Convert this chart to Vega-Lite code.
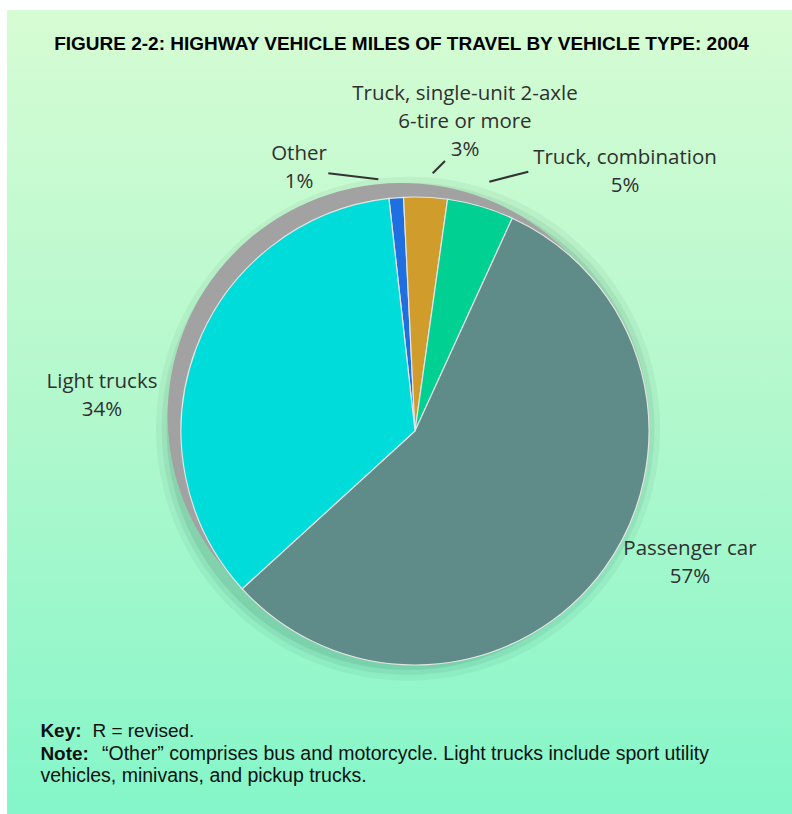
{
  "$schema": "https://vega.github.io/schema/vega-lite/v6.json",
  "width": 785,
  "height": 804,
  "autosize": {"type": "none"},
  "padding": {"left": 7, "top": 10, "right": 0, "bottom": 0},
  "background": "#ffffff",
  "view": {
    "stroke": null,
    "fill": {
      "gradient": "linear", "x1": 0, "y1": 0, "x2": 0, "y2": 1,
      "stops": [
        {"offset": 0, "color": "#d6fcd3"},
        {"offset": 0.5, "color": "#b2f8cd"},
        {"offset": 1, "color": "#84f6c9"}
      ]
    }
  },
  "datasets": {
    "vmt": [
      {"rank": 1, "type": "Other", "share": 1.0, "label": "Other\n1%"},
      {"rank": 2, "type": "Truck, single-unit 2-axle 6-tire or more", "share": 3.0, "label": "Truck, single-unit 2-axle\n6-tire or more\n3%"},
      {"rank": 3, "type": "Truck, combination", "share": 4.6, "label": "Truck, combination\n5%"},
      {"rank": 4, "type": "Passenger car", "share": 56.4, "label": "Passenger car\n57%"},
      {"rank": 5, "type": "Light trucks", "share": 35.0, "label": "Light trucks\n34%"}
    ],
    "disc": [{"piece": "whole", "share": 100}]
  },
  "data": {"name": "vmt"},
  "layer": [
    {
      "data": {"name": "disc"},
      "mark": {"type": "arc", "outerRadius": 252, "color": "#1d5a4a", "opacity": 0.06},
      "encoding": {
        "theta": {"field": "share", "type": "quantitative", "scale": {"domain": [0, 100], "range": [-0.1117, 6.1715]}},
        "x": {"datum": -3.0, "type": "quantitative", "scale": {"domain": [-175.86, 162.5], "nice": false, "zero": false}, "axis": null},
        "y": {"datum": 1.0, "type": "quantitative", "scale": {"domain": [-165.09, 181.47], "nice": false, "zero": false}, "axis": null}
      }
    },
    {
      "data": {"name": "disc"},
      "mark": {"type": "arc", "outerRadius": 246, "color": "#1d5a4a", "opacity": 0.08},
      "encoding": {
        "theta": {"field": "share", "type": "quantitative", "scale": {"domain": [0, 100], "range": [-0.1117, 6.1715]}},
        "x": {"datum": -3.0, "type": "quantitative", "scale": {"domain": [-175.86, 162.5], "nice": false, "zero": false}, "axis": null},
        "y": {"datum": 1.0, "type": "quantitative", "scale": {"domain": [-165.09, 181.47], "nice": false, "zero": false}, "axis": null}
      }
    },
    {
      "data": {"name": "disc"},
      "mark": {"type": "arc", "outerRadius": 241, "color": "#1d5a4a", "opacity": 0.11},
      "encoding": {
        "theta": {"field": "share", "type": "quantitative", "scale": {"domain": [0, 100], "range": [-0.1117, 6.1715]}},
        "x": {"datum": -3.0, "type": "quantitative", "scale": {"domain": [-175.86, 162.5], "nice": false, "zero": false}, "axis": null},
        "y": {"datum": 1.0, "type": "quantitative", "scale": {"domain": [-165.09, 181.47], "nice": false, "zero": false}, "axis": null}
      }
    },
    {
      "data": {"name": "disc"},
      "mark": {"type": "arc", "outerRadius": 233, "color": "#a2a2a2"},
      "encoding": {
        "theta": {"field": "share", "type": "quantitative", "scale": {"domain": [0, 100], "range": [-0.1117, 6.1715]}},
        "x": {"datum": -6.03, "type": "quantitative", "scale": {"domain": [-175.86, 162.5], "nice": false, "zero": false}, "axis": null},
        "y": {"datum": 6.47, "type": "quantitative", "scale": {"domain": [-165.09, 181.47], "nice": false, "zero": false}, "axis": null}
      }
    },
    {
      "mark": {"type": "arc", "outerRadius": 234, "stroke": "#e4e4e4", "strokeWidth": 1.2},
      "encoding": {
        "theta": {"field": "share", "type": "quantitative", "stack": true, "scale": {"domain": [0, 100], "range": [-0.1117, 6.1715]}},
        "order": {"field": "rank", "type": "quantitative"},
        "color": {
          "field": "type", "type": "nominal", "legend": null,
          "scale": {
            "domain": ["Other", "Truck, single-unit 2-axle 6-tire or more", "Truck, combination", "Passenger car", "Light trucks"],
            "range": ["#1f6fe0", "#d09c2c", "#00d092", "#5f8b88", "#00dcd9"]
          }
        },
        "x": {"datum": 0, "type": "quantitative", "scale": {"domain": [-175.86, 162.5], "nice": false, "zero": false}, "axis": null},
        "y": {"datum": 0, "type": "quantitative", "scale": {"domain": [-165.09, 181.47], "nice": false, "zero": false}, "axis": null}
      }
    },
    {
      "data": {"values": [{"leader": "Other"}]},
      "mark": {"type": "rule", "color": "#333333", "strokeWidth": 2},
      "encoding": {
        "x": {"datum": -37.37, "type": "quantitative", "scale": {"domain": [-175.86, 162.5], "nice": false, "zero": false}, "axis": null},
        "y": {"datum": 111.08, "type": "quantitative", "scale": {"domain": [-165.09, 181.47], "nice": false, "zero": false}, "axis": null},
        "x2": {"datum": -15.82},
        "y2": {"datum": 108.49}
      }
    },
    {
      "data": {"values": [{"leader": "Truck, single-unit"}]},
      "mark": {"type": "rule", "color": "#333333", "strokeWidth": 2},
      "encoding": {
        "x": {"datum": 7.63, "type": "quantitative", "scale": {"domain": [-175.86, 162.5], "nice": false, "zero": false}, "axis": null},
        "y": {"datum": 111.08, "type": "quantitative", "scale": {"domain": [-165.09, 181.47], "nice": false, "zero": false}, "axis": null},
        "x2": {"datum": 12.93},
        "y2": {"datum": 116.38}
      }
    },
    {
      "data": {"values": [{"leader": "Truck, combination"}]},
      "mark": {"type": "rule", "color": "#333333", "strokeWidth": 2},
      "encoding": {
        "x": {"datum": 32.03, "type": "quantitative", "scale": {"domain": [-175.86, 162.5], "nice": false, "zero": false}, "axis": null},
        "y": {"datum": 107.46, "type": "quantitative", "scale": {"domain": [-165.09, 181.47], "nice": false, "zero": false}, "axis": null},
        "x2": {"datum": 48.84},
        "y2": {"datum": 111.77}
      }
    },
    {
      "transform": [{"filter": "datum.type === 'Other'"}],
      "mark": {"type": "text", "font": "Open Sans", "fontSize": 20.5, "color": "#303030", "align": "center", "baseline": "middle", "lineBreak": "\n", "lineHeight": 28},
      "encoding": {
        "text": {"field": "label"},
        "x": {"datum": -50.0, "type": "quantitative", "scale": {"domain": [-175.86, 162.5], "nice": false, "zero": false}, "axis": null},
        "y": {"datum": 119.61, "type": "quantitative", "scale": {"domain": [-165.09, 181.47], "nice": false, "zero": false}, "axis": null}
      }
    },
    {
      "transform": [{"filter": "datum.type === 'Truck, single-unit 2-axle 6-tire or more'"}],
      "mark": {"type": "text", "font": "Open Sans", "fontSize": 20.5, "color": "#303030", "align": "center", "baseline": "middle", "lineBreak": "\n", "lineHeight": 28},
      "encoding": {
        "text": {"field": "label"},
        "x": {"datum": 21.55, "type": "quantitative", "scale": {"domain": [-175.86, 162.5], "nice": false, "zero": false}, "axis": null},
        "y": {"datum": 145.26, "type": "quantitative", "scale": {"domain": [-165.09, 181.47], "nice": false, "zero": false}, "axis": null}
      }
    },
    {
      "transform": [{"filter": "datum.type === 'Truck, combination'"}],
      "mark": {"type": "text", "font": "Open Sans", "fontSize": 20.5, "color": "#303030", "align": "center", "baseline": "middle", "lineBreak": "\n", "lineHeight": 28},
      "encoding": {
        "text": {"field": "label"},
        "x": {"datum": 90.52, "type": "quantitative", "scale": {"domain": [-175.86, 162.5], "nice": false, "zero": false}, "axis": null},
        "y": {"datum": 117.67, "type": "quantitative", "scale": {"domain": [-165.09, 181.47], "nice": false, "zero": false}, "axis": null}
      }
    },
    {
      "transform": [{"filter": "datum.type === 'Light trucks'"}],
      "mark": {"type": "text", "font": "Open Sans", "fontSize": 20.5, "color": "#303030", "align": "center", "baseline": "middle", "lineBreak": "\n", "lineHeight": 28},
      "encoding": {
        "text": {"field": "label"},
        "x": {"datum": -134.91, "type": "quantitative", "scale": {"domain": [-175.86, 162.5], "nice": false, "zero": false}, "axis": null},
        "y": {"datum": 21.12, "type": "quantitative", "scale": {"domain": [-165.09, 181.47], "nice": false, "zero": false}, "axis": null}
      }
    },
    {
      "transform": [{"filter": "datum.type === 'Passenger car'"}],
      "mark": {"type": "text", "font": "Open Sans", "fontSize": 20.5, "color": "#303030", "align": "center", "baseline": "middle", "lineBreak": "\n", "lineHeight": 28},
      "encoding": {
        "text": {"field": "label"},
        "x": {"datum": 118.53, "type": "quantitative", "scale": {"domain": [-175.86, 162.5], "nice": false, "zero": false}, "axis": null},
        "y": {"datum": -50.86, "type": "quantitative", "scale": {"domain": [-165.09, 181.47], "nice": false, "zero": false}, "axis": null}
      }
    },
    {
      "data": {"values": [{"t": "FIGURE 2-2:  HIGHWAY VEHICLE MILES OF TRAVEL BY VEHICLE TYPE: 2004"}]},
      "mark": {"type": "text", "font": "Liberation Sans", "fontWeight": "bold", "fontSize": 19, "color": "#000000", "align": "center", "baseline": "middle"},
      "encoding": {
        "text": {"field": "t"},
        "x": {"datum": -5.82, "type": "quantitative", "scale": {"domain": [-175.86, 162.5], "nice": false, "zero": false}, "axis": null},
        "y": {"datum": 167.0, "type": "quantitative", "scale": {"domain": [-165.09, 181.47], "nice": false, "zero": false}, "axis": null}
      }
    },
    {
      "data": {"values": [{"t": "Key:"}]},
      "mark": {"type": "text", "font": "Liberation Sans", "fontWeight": "bold", "fontSize": 19, "color": "#111111", "align": "left", "baseline": "middle"},
      "encoding": {
        "text": {"field": "t"},
        "x": {"datum": -161.47, "type": "quantitative", "scale": {"domain": [-175.86, 162.5], "nice": false, "zero": false}, "axis": null},
        "y": {"datum": -129.31, "type": "quantitative", "scale": {"domain": [-165.09, 181.47], "nice": false, "zero": false}, "axis": null}
      }
    },
    {
      "data": {"values": [{"t": "R = revised."}]},
      "mark": {"type": "text", "font": "Liberation Sans", "fontSize": 19, "color": "#111111", "align": "left", "baseline": "middle"},
      "encoding": {
        "text": {"field": "t"},
        "x": {"datum": -139.05, "type": "quantitative", "scale": {"domain": [-175.86, 162.5], "nice": false, "zero": false}, "axis": null},
        "y": {"datum": -129.31, "type": "quantitative", "scale": {"domain": [-165.09, 181.47], "nice": false, "zero": false}, "axis": null}
      }
    },
    {
      "data": {"values": [{"t": "Note:"}]},
      "mark": {"type": "text", "font": "Liberation Sans", "fontWeight": "bold", "fontSize": 19, "color": "#111111", "align": "left", "baseline": "middle"},
      "encoding": {
        "text": {"field": "t"},
        "x": {"datum": -161.47, "type": "quantitative", "scale": {"domain": [-175.86, 162.5], "nice": false, "zero": false}, "axis": null},
        "y": {"datum": -139.22, "type": "quantitative", "scale": {"domain": [-165.09, 181.47], "nice": false, "zero": false}, "axis": null}
      }
    },
    {
      "data": {"values": [{"t": "“Other” comprises bus and motorcycle. Light trucks include sport utility"}]},
      "mark": {"type": "text", "font": "Liberation Sans", "fontSize": 19.5, "color": "#111111", "align": "left", "baseline": "middle"},
      "encoding": {
        "text": {"field": "t"},
        "x": {"datum": -134.91, "type": "quantitative", "scale": {"domain": [-175.86, 162.5], "nice": false, "zero": false}, "axis": null},
        "y": {"datum": -139.22, "type": "quantitative", "scale": {"domain": [-165.09, 181.47], "nice": false, "zero": false}, "axis": null}
      }
    },
    {
      "data": {"values": [{"t": "vehicles, minivans, and pickup trucks."}]},
      "mark": {"type": "text", "font": "Liberation Sans", "fontSize": 19.5, "color": "#111111", "align": "left", "baseline": "middle"},
      "encoding": {
        "text": {"field": "t"},
        "x": {"datum": -161.47, "type": "quantitative", "scale": {"domain": [-175.86, 162.5], "nice": false, "zero": false}, "axis": null},
        "y": {"datum": -148.71, "type": "quantitative", "scale": {"domain": [-165.09, 181.47], "nice": false, "zero": false}, "axis": null}
      }
    }
  ]
}
